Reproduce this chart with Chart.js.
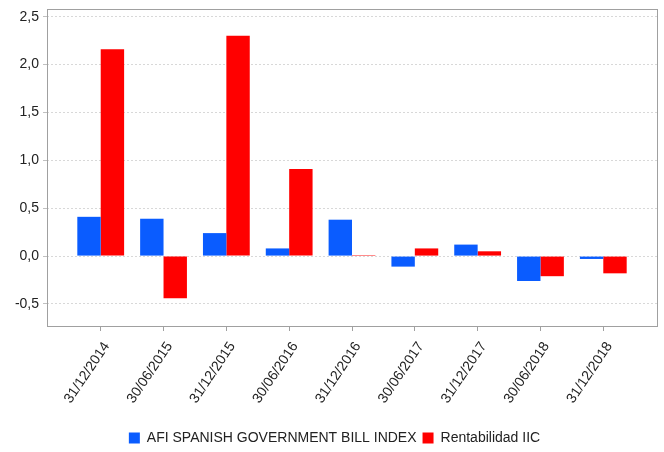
<!DOCTYPE html>
<html><head><meta charset="utf-8">
<script src="https://cdn.jsdelivr.net/npm/chart.js@4/dist/chart.umd.min.js"></script>
<style>html,body{margin:0;padding:0;background:#fff}#wrap{width:664px;height:452px}</style>
</head><body><div id="wrap"><canvas id="c" width="664" height="452"></canvas></div>
<script>
const categories = ["31/12/2014","30/06/2015","31/12/2015","30/06/2016","31/12/2016","30/06/2017","31/12/2017","30/06/2018","31/12/2018"];
const afiIndex = [0.41, 0.39, 0.24, 0.08, 0.38, -0.11, 0.12, -0.26, -0.03];
const rentabilidad = [2.16, -0.44, 2.30, 0.91, 0.01, 0.08, 0.05, -0.21, -0.18];
const yTicks = [-0.5, 0, 0.5, 1.0, 1.5, 2.0, 2.5];
const seriesNames = ["AFI SPANISH GOVERNMENT BILL INDEX", "Rentabilidad IIC"];

const borderPlugin = {
  id: 'frame',
  afterLayout(chart) {
    const lg = chart.legend;
    if (lg) { lg.left += 12; lg.top += 3; lg.bottom += 3; }
  },
  afterDraw(chart) {
    const a = chart.chartArea, ctx = chart.ctx;
    ctx.save();
    ctx.strokeStyle = '#a0a0a0';
    ctx.lineWidth = 1;
    ctx.strokeRect(Math.round(a.left) + 0.5, Math.round(a.top) + 0.5, Math.round(a.right - a.left), Math.round(a.bottom - a.top));
    ctx.restore();
  }
};

const FONT = 'Liberation Sans, Arial, sans-serif';

new Chart(document.getElementById('c'), {
  type: 'bar',
  data: {
    datasets: [
      { label: seriesNames[0], data: afiIndex.map((v, i) => ({ x: i, y: v })), backgroundColor: '#0a5cff', borderWidth: 0 },
      { label: seriesNames[1], data: rentabilidad.map((v, i) => ({ x: i, y: v })), backgroundColor: '#ff0000', borderWidth: 0 }
    ]
  },
  plugins: [borderPlugin],
  options: {
    responsive: false,
    animation: false,
    layout: { padding: { left: 0, right: 7, top: 9, bottom: 0 } },
    datasets: { bar: { categoryPercentage: 0.745, barPercentage: 1.0 } },
    plugins: {
      tooltip: { enabled: false },
      legend: {
        position: 'bottom',
        labels: { boxWidth: 11, boxHeight: 11, font: { family: FONT, size: 14 }, color: '#222', padding: 6 }
      }
    },
    scales: {
      x: {
        type: 'linear',
        offset: false,
        min: -0.855, max: 8.855,
        afterBuildTicks: s => { s.ticks = categories.map((c, i) => ({ value: i })); },
        afterFit: s => { s.height = 96; s.paddingLeft = 0; s.paddingRight = 0; },
        ticks: {
          autoSkip: false, minRotation: 56, maxRotation: 56, padding: 8, labelOffset: 6,
          font: { family: FONT, size: 14 }, color: '#222',
          callback: v => categories[v]
        },
        grid: { display: true, offset: false, drawOnChartArea: false, drawTicks: true, tickLength: 5, color: '#a0a0a0' },
        border: { display: false }
      },
      y: {
        min: -0.73, max: 2.58,
        afterBuildTicks: s => { s.ticks = yTicks.map(v => ({ value: v })); },
        afterFit: s => { s.width = 47; s.paddingTop = 0; s.paddingBottom = 0; },
        ticks: {
          font: { family: FONT, size: 14 }, color: '#222', padding: 4,
          callback: v => v.toFixed(1).replace('.', ',')
        },
        grid: { color: '#d8d8d8', tickLength: 4, tickColor: '#c0c0c0' },
        border: { display: false, dash: [2, 2] }
      }
    }
  }
});
</script></body></html>
